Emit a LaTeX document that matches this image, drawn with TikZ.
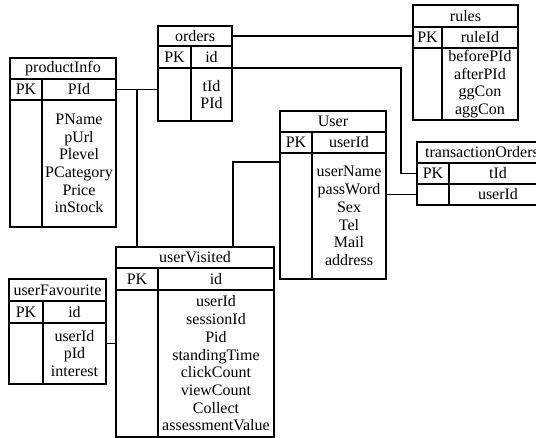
\documentclass[tikz,border=0pt]{standalone}
\usepackage{fontspec}
\setmainfont{Liberation Serif}
\begin{document}
\begin{tikzpicture}[x=1pt,y=-1pt,line width=1.5pt,
  cell/.style={draw,anchor=north west,inner sep=0pt,outer sep=0pt,align=center,
    font=\fontsize{16}{17.7}\selectfont}]
\useasboundingbox (0,0) rectangle (536,438);
% productInfo
\node[cell,minimum width=106,minimum height=21] (productInfo) at (10,58) {productInfo};
\node[cell,minimum width=32,minimum height=21] (productInfoPK) at (10,79) {PK};
\node[cell,minimum width=74,minimum height=21] (productInfoKey) at (42,79) {PId};
\node[cell,minimum width=32,minimum height=127] (productInfoSide) at (10,100) {};
\node[cell,minimum width=74,minimum height=127] (productInfoBody) at (42,100) {PName\\pUrl\\Plevel\\PCategory\\Price\\inStock};
% orders
\node[cell,minimum width=74,minimum height=20] (orders) at (158,26) {orders};
\node[cell,minimum width=33,minimum height=22] (ordersPK) at (158,46) {PK};
\node[cell,minimum width=41,minimum height=22] (ordersKey) at (191,46) {id};
\node[cell,minimum width=33,minimum height=53] (ordersSide) at (158,68) {};
\node[cell,minimum width=41,minimum height=53] (ordersBody) at (191,68) {tId\\PId};
% rules
\node[cell,minimum width=105,minimum height=22] (rules) at (413,5) {rules};
\node[cell,minimum width=29,minimum height=21] (rulesPK) at (413,27) {PK};
\node[cell,minimum width=76,minimum height=21] (rulesKey) at (442,27) {ruleId};
\node[cell,minimum width=29,minimum height=72] (rulesSide) at (413,48) {};
\node[cell,minimum width=76,minimum height=72] (rulesBody) at (442,48) {beforePId\\afterPId\\ggCon\\aggCon};
% User
\node[cell,minimum width=106,minimum height=21] (User) at (280,111) {User};
\node[cell,minimum width=32,minimum height=21] (UserPK) at (280,132) {PK};
\node[cell,minimum width=74,minimum height=21] (UserKey) at (312,132) {userId};
\node[cell,minimum width=32,minimum height=126] (UserSide) at (280,153) {};
\node[cell,minimum width=74,minimum height=126] (UserBody) at (312,153) {userName\\passWord\\Sex\\Tel\\Mail\\address};
% transactionOrders
\node[cell,minimum width=130,minimum height=21] (transactionOrders) at (417,142) {transactionOrders};
\node[cell,minimum width=32,minimum height=21] (transPK) at (417,163) {PK};
\node[cell,minimum width=98,minimum height=21] (transKey) at (449,163) {tId};
\node[cell,minimum width=32,minimum height=21] (transSide) at (417,184) {};
\node[cell,minimum width=98,minimum height=21] (transUser) at (449,184) {userId};
% userVisited
\node[cell,minimum width=158,minimum height=21] (userVisited) at (116,247) {userVisited};
\node[cell,minimum width=42,minimum height=22] (userVisitedPK) at (116,268) {PK};
\node[cell,minimum width=116,minimum height=22] (userVisitedKey) at (158,268) {id};
\node[cell,minimum width=42,minimum height=147] (userVisitedSide) at (116,290) {};
\node[cell,minimum width=116,minimum height=147] (userVisitedBody) at (158,290) {userId\\sessionId\\Pid\\standingTime\\clickCount\\viewCount\\Collect\\assessmentValue};
% userFavourite
\node[cell,minimum width=97,minimum height=22] (userFavourite) at (9,279) {userFavourite};
\node[cell,minimum width=34,minimum height=22] (userFavouritePK) at (9,301) {PK};
\node[cell,minimum width=63,minimum height=22] (userFavouriteKey) at (43,301) {id};
\node[cell,minimum width=34,minimum height=61] (userFavouriteSide) at (9,323) {};
\node[cell,minimum width=63,minimum height=61] (userFavouriteBody) at (43,323) {userId\\pId\\interest};
% links
\draw (productInfoKey.east) -- (productInfoKey.east -| ordersSide.west);
\coordinate (pJoin) at ([xshift=21pt]productInfoKey.east);
\draw (pJoin) -- (pJoin |- userVisited.north);
\draw (orders.east) -- (orders.east -| rulesPK.west);
\draw (ordersKey.south east) -- ++(169,0) |- (transPK.west);
\draw ([yshift=-9pt]UserSide.north west) -| ([xshift=-41pt]userVisited.north east);
\draw (transSide.west -| UserBody.east) -- (transSide.west);
\draw ([yshift=10pt]userFavouriteBody.east) -- ([yshift=10pt]userFavouriteBody.east -| userVisitedSide.west);
\end{tikzpicture}
\end{document}
